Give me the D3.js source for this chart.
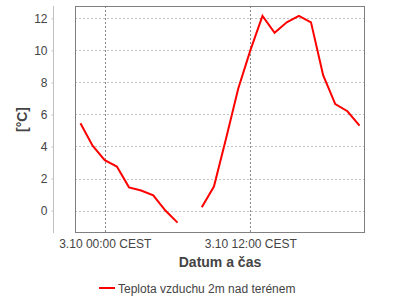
<!DOCTYPE html>
<html><head><meta charset="utf-8">
<script src="https://cdn.jsdelivr.net/npm/d3@7"></script>
<style>body{margin:0;background:#fff}svg{display:block}text{font-family:"Liberation Sans",Arial,sans-serif}</style>
</head><body>
<svg id="c" width="400" height="300"></svg>
<script>
const times = ["2.10 22:00","2.10 23:00","3.10 00:00","3.10 01:00","3.10 02:00","3.10 03:00","3.10 04:00","3.10 05:00","3.10 06:00","3.10 07:00","3.10 08:00","3.10 09:00","3.10 10:00","3.10 11:00","3.10 12:00","3.10 13:00","3.10 14:00","3.10 15:00","3.10 16:00","3.10 17:00","3.10 18:00","3.10 19:00","3.10 20:00","3.10 21:00"];
const temperature = [5.45,4.05,3.15,2.75,1.45,1.25,0.95,0.0,-0.75,null,0.2,1.5,4.5,7.6,10.0,12.15,11.1,11.75,12.15,11.75,8.45,6.65,6.2,5.3];
const xDomain = ["2.10 21:33","3.10 21:27"];
const yDomain = [-1.4, 12.77];
const xTicks = ["3.10 00:00","3.10 12:00"];
const yTicks = [0,2,4,6,8,10,12];
const seriesName = "Teplota vzduchu 2m nad terénem";
const xTitle = "Datum a čas";
const yTitle = "[°C]";

const parse = d3.timeParse("%d.%m %H:%M");
const fmt = d3.timeFormat("%-d.%-m %H:%M CEST");
const svg = d3.select("#c");
const L = 75, R = 365, T = 6, B = 233;
const x = d3.scaleTime().domain(xDomain.map(parse)).range([L, R]);
const y = d3.scaleLinear().domain(yDomain).range([B, T]);
const txt = "#444";

// horizontal grid
svg.append("g").selectAll("line").data(yTicks).join("line")
  .attr("x1", L).attr("x2", R).attr("y1", d => Math.round(y(d)) + 0.5).attr("y2", d => Math.round(y(d)) + 0.5)
  .attr("stroke", "#c0c0c0").attr("stroke-dasharray", "2,2");
// vertical grid
svg.append("g").selectAll("line").data(xTicks.map(parse)).join("line")
  .attr("x1", d => Math.round(x(d)) + 0.5).attr("x2", d => Math.round(x(d)) + 0.5).attr("y1", T).attr("y2", B)
  .attr("stroke", "#888").attr("stroke-dasharray", "2,2");

// plot border
svg.append("rect").attr("x", L + 0.5).attr("y", T + 0.5).attr("width", R - L - 1).attr("height", B - T - 1)
  .attr("fill", "none").attr("stroke", "#808080");

// y axis
const ya = svg.append("g").attr("transform", "translate(53.5,0)")
  .call(d3.axisLeft(y).tickValues(yTicks).tickSize(2).tickPadding(4).tickFormat(d3.format("d")));
ya.select(".domain").attr("stroke", "#c0c0c0").attr("d", `M0,${T}V${B}`);
ya.selectAll(".tick line").attr("stroke", "#c0c0c0");
ya.selectAll("text").attr("fill", txt).attr("font-size", 12).attr("font-family", "Liberation Sans, Arial, sans-serif");

// x axis labels
const xa = svg.append("g").attr("transform", `translate(0,${B})`)
  .call(d3.axisBottom(x).tickValues(xTicks.map(parse)).tickSize(0).tickPadding(6).tickFormat(fmt));
xa.select(".domain").remove();
xa.selectAll("text").attr("fill", txt).attr("font-size", 12).attr("font-family", "Liberation Sans, Arial, sans-serif");

// line
const data = times.map((t, i) => ({t: parse(t), v: temperature[i]}));
svg.append("path").datum(data)
  .attr("d", d3.line().defined(d => d.v !== null).x(d => x(d.t)).y(d => y(d.v)))
  .attr("fill", "none").attr("stroke", "#ff0000").attr("stroke-width", 2);

// titles
svg.append("text").attr("x", (L + R) / 2).attr("y", 267).attr("text-anchor", "middle")
  .attr("font-size", 14).attr("font-weight", "bold").attr("fill", txt).text(xTitle);
svg.append("text").attr("transform", `translate(27,${(T + B) / 2}) rotate(-90)`).attr("text-anchor", "middle")
  .attr("font-size", 14).attr("font-weight", "bold").attr("fill", txt).text(yTitle);

// legend
svg.append("line").attr("x1", 99).attr("x2", 115).attr("y1", 288).attr("y2", 288)
  .attr("stroke", "#ff0000").attr("stroke-width", 2);
svg.append("text").attr("x", 118).attr("y", 292.5).attr("font-size", 12).attr("fill", txt).text(seriesName);
</script>
</body></html>
